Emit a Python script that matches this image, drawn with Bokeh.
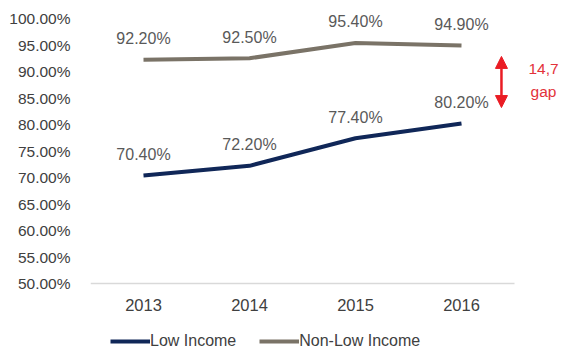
from bokeh.plotting import figure
from bokeh.models import (Range1d, FixedTicker, PrintfTickFormatter,
                          Legend, LegendItem, Arrow, NormalHead, Label, ColumnDataSource)
from bokeh.embed import file_html
from bokeh.resources import INLINE
from bokeh.core.properties import value

years = ["2013", "2014", "2015", "2016"]
low_income = [70.4, 72.2, 77.4, 80.2]
non_low_income = [92.2, 92.5, 95.4, 94.9]
y_ticks = [50, 55, 60, 65, 70, 75, 80, 85, 90, 95, 100]
gap_text = ["14,7", "gap"]

FONT = "Liberation Sans"
NAVY = "#102758"
GREY = "#7a7367"
RED = "#ea1c24"
RED_TEXT = "#e3323a"

xpos = [i + 0.5 for i in range(len(years))]

p = figure(width=563, height=352, x_range=Range1d(0, 4.4623), y_range=Range1d(36.98, 103.4),
           output_backend="svg", toolbar_location=None,
           min_border_left=90, min_border_right=0, min_border_top=0, min_border_bottom=0)
p.outline_line_color = None
p.xgrid.visible = False
p.ygrid.visible = False
p.background_fill_color = "white"

src_low = ColumnDataSource(dict(x=xpos, y=low_income, t=["%.2f%%" % v for v in low_income]))
src_non = ColumnDataSource(dict(x=xpos, y=non_low_income, t=["%.2f%%" % v for v in non_low_income]))

r_low = p.line("x", "y", source=src_low, line_color=NAVY, line_width=4)
r_non = p.line("x", "y", source=src_non, line_color=GREY, line_width=4)

for src in (src_low, src_non):
    p.text("x", "y", text="t", source=src, text_align="center", text_baseline="middle",
           y_offset=-21, text_font=value(FONT), text_font_size="16px", text_color="#595959")

# y axis
p.yaxis.ticker = FixedTicker(ticks=y_ticks)
p.yaxis.formatter = PrintfTickFormatter(format="%.2f%%")
p.yaxis.axis_line_color = None
p.yaxis.major_tick_line_color = None
p.yaxis.minor_tick_line_color = None
p.yaxis.major_label_standoff = 14
p.yaxis.major_label_text_font = FONT
p.yaxis.major_label_text_font_size = "15.5px"
p.yaxis.major_label_text_color = "#404040"

# x axis, drawn at the 50% level
p.xaxis.fixed_location = y_ticks[0]
p.xaxis.bounds = (0, len(years))
p.xaxis.ticker = FixedTicker(ticks=xpos)
p.xaxis.major_label_overrides = {x: y for x, y in zip(xpos, years)}
p.xaxis.axis_line_color = "#d9d9d9"
p.xaxis.axis_line_width = 1.5
p.xaxis.major_tick_line_color = None
p.xaxis.minor_tick_line_color = None
p.xaxis.major_label_standoff = 10
p.xaxis.major_label_text_font = FONT
p.xaxis.major_label_text_font_size = "16.5px"
p.xaxis.major_label_text_color = "#404040"

# gap annotation
p.add_layout(Arrow(x_start=3.877, y_start=88.0, x_end=3.877, y_end=92.85,
                   line_color=RED, line_width=2.5,
                   end=NormalHead(size=12, fill_color=RED, line_color=RED)))
p.add_layout(Arrow(x_start=3.877, y_start=88.0, x_end=3.877, y_end=83.2,
                   line_color=RED, line_width=2.5,
                   end=NormalHead(size=12, fill_color=RED, line_color=RED)))
p.add_layout(Label(x=4.274, y=90.4, text=gap_text[0],
                   text_align="center", text_baseline="middle", text_font=FONT,
                   text_font_size="15.5px", text_color=RED_TEXT))
p.add_layout(Label(x=4.274, y=86.2, text=gap_text[1],
                   text_align="center", text_baseline="middle", text_font=FONT,
                   text_font_size="15.5px", text_color=RED_TEXT))

legend = Legend(items=[LegendItem(label="Low Income", renderers=[r_low]),
                       LegendItem(label="Non-Low Income", renderers=[r_non])],
                orientation="horizontal", location=(20, 2),
                label_text_font=FONT, label_text_font_size="16px", label_text_color="#404040",
                glyph_width=40, glyph_height=14, label_height=14, label_standoff=0, spacing=23,
                border_line_color=None, background_fill_alpha=0,
                padding=0, margin=0)
p.add_layout(legend)

open("out.html", "w").write(file_html(p, INLINE))
